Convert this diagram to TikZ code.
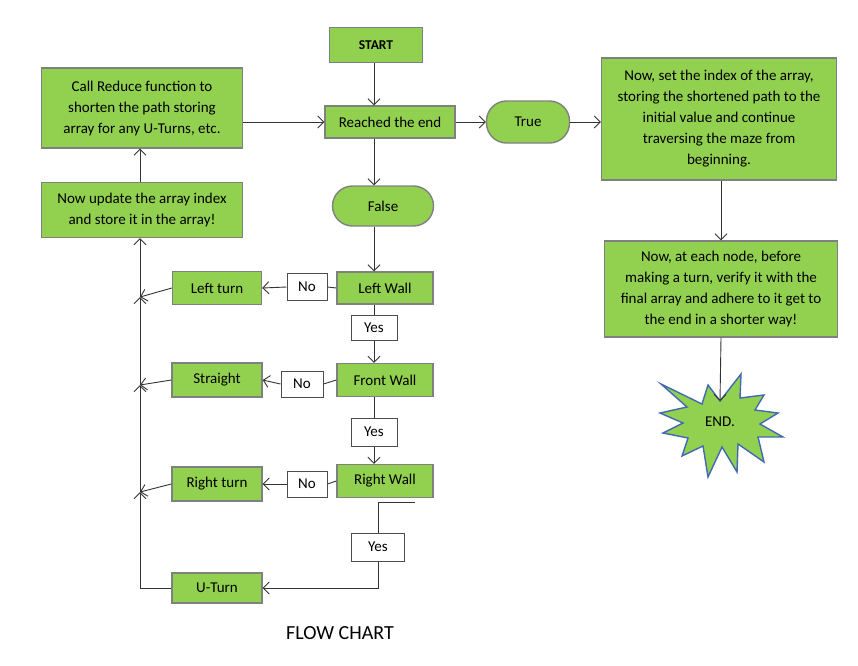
\documentclass[tikz,border=0pt]{standalone}
\usepackage{fontspec}
\setmainfont{Carlito}
\usetikzlibrary{arrows.meta, shapes.geometric}

\definecolor{boxgreen}{RGB}{146,208,80}
\definecolor{boxedge}{RGB}{128,128,128}
\definecolor{starblue}{RGB}{66,106,178}

\begin{document}
\begin{tikzpicture}[x=1pt, y=-1pt, >={Straight Barb[length=6pt,width=12pt]},
    every node/.style={font=\fontsize{15}{21}\selectfont},
    box/.style={draw=boxedge, fill=boxgreen, line width=1.4pt, align=center, inner sep=2pt},
    pill/.style={box, rounded corners=20pt},
    tag/.style={draw=black!70, fill=white, line width=1pt, inner sep=2pt},
    link/.style={draw=black!80, line width=0.9pt}]
    \useasboundingbox (0,0) rectangle (858,665);

    % middle column
    \node[box, minimum width=93pt, minimum height=35pt, font=\bfseries\fontsize{13.5}{16}\selectfont] (start) at (376,45) {START};
    \node[box, minimum width=130pt, minimum height=32pt] (reached) at (390,122) {Reached the end};
    \node[pill, minimum width=83pt, minimum height=42pt] (true) at (528,122) {True};
    \node[pill, minimum width=101pt, minimum height=40pt] (false) at (383,206) {False};
    \node[box, minimum width=96pt, minimum height=32pt] (lwall) at (385,288) {Left Wall};
    \node[box, minimum width=96pt, minimum height=33pt] (fwall) at (385,380) {Front Wall};
    \node[box, minimum width=96pt, minimum height=33pt] (rwall) at (385,481) {Right Wall};
    \node[tag, minimum width=40pt, minimum height=27pt] (no1) at (307,287) {No};
    \node[tag, minimum width=42pt, minimum height=26pt] (no2) at (302,384) {No};
    \node[tag, minimum width=40pt, minimum height=26pt] (no3) at (307,484) {No};
    \node[tag, minimum width=46pt, minimum height=25pt] (yes1) at (374,328) {Yes};
    \node[tag, minimum width=46pt, minimum height=28pt] (yes2) at (374,432) {Yes};
    \node[tag, minimum width=53pt, minimum height=28pt] (yes3) at (378,547) {Yes};

    % left column
    \node[box, minimum width=201pt, minimum height=80pt] (reduce) at (142,108) {Call Reduce function to\\shorten the path storing\\array for any U-Turns, etc.};
    \node[box, minimum width=201pt, minimum height=55pt] (update) at (142,210) {Now update the array index\\and store it in the array!};
    \node[box, minimum width=89pt, minimum height=33pt] (lturn) at (217,288) {Left turn};
    \node[box, minimum width=90pt, minimum height=34pt] (straight) at (217,380) {Straight};
    \node[box, minimum width=90pt, minimum height=34pt] (rturn) at (217,484) {Right turn};
    \node[box, minimum width=90pt, minimum height=30pt] (uturn) at (217,588) {U-Turn};

    % right column
    \node[box, minimum width=235pt, minimum height=122pt] (restart) at (719,119) {Now, set the index of the array,\\storing the shortened path to the\\initial value and continue\\traversing the maze from\\beginning.};
    \node[box, minimum width=233pt, minimum height=96pt] (verify) at (721,289) {Now, at each node, before\\making a turn, verify it with the\\final array and adhere to it get to\\the end in a shorter way!};

    % explosion shape
    \draw[draw=starblue, fill=boxgreen, line width=1.4pt, line join=miter]
        (661,384) -- (702,404) -- (708,385) -- (720,401) -- (741,374) -- (740,398)
        -- (764,395) -- (755,410) -- (778,413) -- (760,424) -- (783,437) -- (758,437)
        -- (764,462) -- (738,444) -- (737,472) -- (722,447) -- (708,477) -- (703,446)
        -- (682,456) -- (688,438) -- (663,433) -- (683,423) -- (660,413) -- (687,407) -- cycle;
    \node (endlabel) at (720,422) {END.};

    \node[font=\fontsize{20}{24}\selectfont] (title) at (340,633) {FLOW CHART};

    \coordinate (jR) at (140,492);
    \coordinate (jS) at (140,385);
    \coordinate (jL) at (140,297);
    \coordinate (rwtail) at (415,502);
    \coordinate (endtip) at (720,401);

    % connectors
    \draw[link, ->] (start.south -| yes1) -- (reached.north -| yes1);
    \draw[link, ->] (reduce.east |- reached.west) -- (reached.west);
    \draw[link, ->] (reached.east) -- (true.west);
    \draw[link, ->] (true.east) -- (restart.west |- true.east);
    \draw[link, ->] (reached.south -| yes1) -- (false.north -| yes1);
    \draw[link, ->] (false.south -| yes1) -- (lwall.north -| yes1);
    \draw[link] (lwall.south -| yes1) -- (yes1.north);
    \draw[link, ->] (yes1.south) -- (fwall.north -| yes1);
    \draw[link] (fwall.south -| yes2) -- (yes2.north);
    \draw[link, ->] (yes2.south) -- (rwall.north -| yes2);
    \draw[link] (rwtail) -- (rwtail -| yes3) -- (yes3.north);
    \draw[link, ->] (yes3.south) |- (uturn.east);
    \draw[link] (lwall.west) -- (no1.east);
    \draw[link, ->] (no1.west) -- (lturn.east);
    \draw[link] (fwall.west) -- (no2.east);
    \draw[link, ->] (no2.west) -- (straight.east);
    \draw[link] (rwall.west) -- (no3.east);
    \draw[link, ->] (no3.west) -- (rturn.east);
    \draw[link, ->] (uturn.west) -| (jR);
    \draw[link, ->] (rturn.west) -- (jR);
    \draw[link, ->] (jR) -- (jS);
    \draw[link, ->] (straight.west) -- (jS);
    \draw[link, ->] (jS) -- (jL);
    \draw[link, ->] (lturn.west) -- (jL);
    \draw[link, ->] (jL) -- (update.south -| jL);
    \draw[link, ->] (update.north -| jL) -- (reduce.south -| jL);
    \draw[link, ->] (restart.south -| verify.south) -- (verify.north);
    \draw[link, ->] (verify.south) -- (endtip);
\end{tikzpicture}
\end{document}
